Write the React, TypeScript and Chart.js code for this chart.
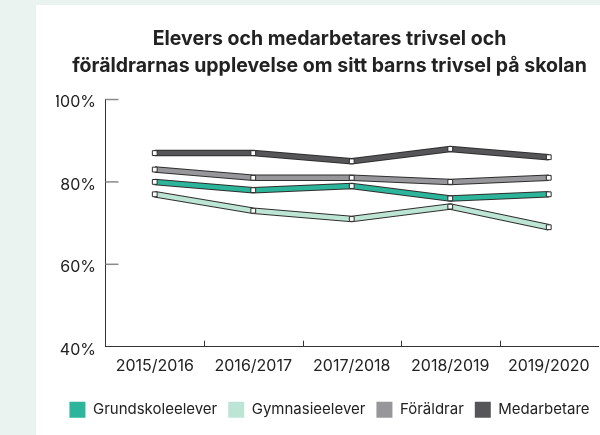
import React, { useEffect, useRef } from 'react';
import { Chart, registerables } from 'chart.js';

Chart.register(...registerables);

const categories = ['2015/2016', '2016/2017', '2017/2018', '2018/2019', '2019/2020'];
const grundskoleelever = [80, 78, 79, 76, 77];
const gymnasieelever = [77, 73, 71, 74, 69];
const foraldrar = [83, 81, 81, 80, 81];
const medarbetare = [87, 87, 85, 88, 86];
const seriesNames = ['Grundskoleelever', 'Gymnasieelever', 'Föräldrar', 'Medarbetare'];
const seriesColors = ['#2db59c', '#bde5d5', '#97979b', '#565658'];
const yTickValues = [40, 60, 80, 100];
const titleLines = [
  'Elevers och medarbetares trivsel och',
  'föräldrarnas upplevelse om sitt barns trivsel på skolan',
];

const FONT = 'Inter, "Noto Sans", sans-serif';
const TEXT = '#222';

const inwardTicks = {
  id: 'inwardTicks',
  beforeUpdate(chart: any) {
    const lg = chart.legend;
    if (lg && !lg.__patched) {
      const orig = lg.fit;
      lg.fit = function () {
        orig.call(this);
        this.height = 40;
      };
      lg.__patched = true;
    }
  },
  beforeDatasetsDraw(chart: any) {
    const { ctx, scales, chartArea } = chart;
    const x = scales.x;
    const y = scales.y;
    ctx.save();
    ctx.strokeStyle = '#8a8a8a';
    ctx.lineWidth = 1.5;
    yTickValues.slice(1).forEach((v) => {
      const py = y.getPixelForValue(v);
      ctx.beginPath();
      ctx.moveTo(chartArea.left, py);
      ctx.lineTo(chartArea.left + 13, py);
      ctx.stroke();
    });
    ctx.strokeStyle = '#333';
    ctx.lineWidth = 1;
    for (let i = 1; i < categories.length; i++) {
      const px = Math.round((x.getPixelForValue(i - 1) + x.getPixelForValue(i)) / 2) + 0.5;
      ctx.beginPath();
      ctx.moveTo(px, chartArea.bottom);
      ctx.lineTo(px, chartArea.bottom - 6);
      ctx.stroke();
    }
    ctx.restore();
  },
};

export default function App() {
  const ref = useRef<HTMLCanvasElement | null>(null);

  useEffect(() => {
    if (!ref.current) return;
    const seriesData = [grundskoleelever, gymnasieelever, foraldrar, medarbetare];
    const datasets: any[] = [];
    seriesData.forEach((d, i) => {
      datasets.push({
        label: seriesNames[i],
        data: d,
        borderColor: seriesColors[i],
        backgroundColor: seriesColors[i],
        borderWidth: 4.5,
        borderJoinStyle: 'miter',
        borderCapStyle: 'butt',
        tension: 0,
        pointStyle: 'rect',
        pointRadius: 3.4,
        pointBackgroundColor: '#fff',
        pointBorderColor: '#2b2b2b',
        pointBorderWidth: 1,
        order: 0,
      });
    });
    seriesData.forEach((d, i) => {
      datasets.push({
        label: seriesNames[i] + ' ',
        data: d,
        borderColor: '#2e2e2e',
        backgroundColor: '#2e2e2e',
        borderWidth: 6.5,
        borderJoinStyle: 'miter',
        borderCapStyle: 'butt',
        tension: 0,
        pointRadius: 0,
        order: 1,
      });
    });

    const chart = new Chart(ref.current, {
      type: 'line',
      data: { labels: categories, datasets },
      options: {
        responsive: false,
        animation: false,
        layout: { padding: { left: 56, right: 0, top: 0, bottom: 4.3 } },
        plugins: {
          tooltip: { enabled: false },
          title: {
            display: true,
            text: titleLines,
            color: TEXT,
            font: { family: FONT, size: 19.5, weight: 'bold', lineHeight: 1.385 },
            padding: { top: 26, bottom: 19.5 },
          },
          legend: {
            position: 'bottom',
            labels: {
              font: { family: FONT, size: 15 },
              color: TEXT,
              boxWidth: 16,
              boxHeight: 16,
              padding: 11,
              filter: (item: any) => item.datasetIndex < seriesNames.length,
              generateLabels: (c: any) =>
                (Chart.defaults.plugins.legend.labels as any).generateLabels(c).map((l: any) => ({
                  ...l,
                  lineWidth: 0,
                  fillStyle: seriesColors[l.datasetIndex % seriesColors.length],
                  strokeStyle: seriesColors[l.datasetIndex % seriesColors.length],
                })),
            },
          },
        },
        scales: {
          x: {
            offset: true,
            grid: { display: true, drawOnChartArea: false, drawTicks: false },
            border: { display: true, color: '#333', width: 1 },
            ticks: {
              color: TEXT,
              font: { family: FONT, size: 16 },
              padding: 10,
              maxRotation: 0,
              autoSkip: false,
            },
            afterFit: (s: any) => {
              s.height = 44;
            },
          },
          y: {
            min: 40,
            max: 100,
            grid: { display: true, drawOnChartArea: false, drawTicks: false },
            border: { display: true, color: '#333', width: 1 },
            ticks: {
              stepSize: 20,
              color: TEXT,
              font: { family: FONT, size: 16 },
              padding: 9.5,
              labelOffset: 3,
              callback: (v: any) => (yTickValues.includes(Number(v)) ? `${v}%` : ''),
            },
            afterFit: (s: any) => {
              s.width = 49.5;
            },
          },
        },
      },
      plugins: [inwardTicks],
    } as any);

    return () => chart.destroy();
  }, []);

  return (
    <div
      style={{
        position: 'fixed',
        left: 0,
        top: 0,
        width: 600,
        height: 435,
        overflow: 'hidden',
        background: '#eaf3f0',
      }}
    >
      <div
        style={{ position: 'absolute', left: 36, top: 5, right: 0, bottom: 0, background: '#fff' }}
      />
      <canvas
        ref={ref}
        width={603}
        height={435}
        style={{ position: 'absolute', left: 0, top: 0, width: 603, height: 435 }}
      />
    </div>
  );
}
